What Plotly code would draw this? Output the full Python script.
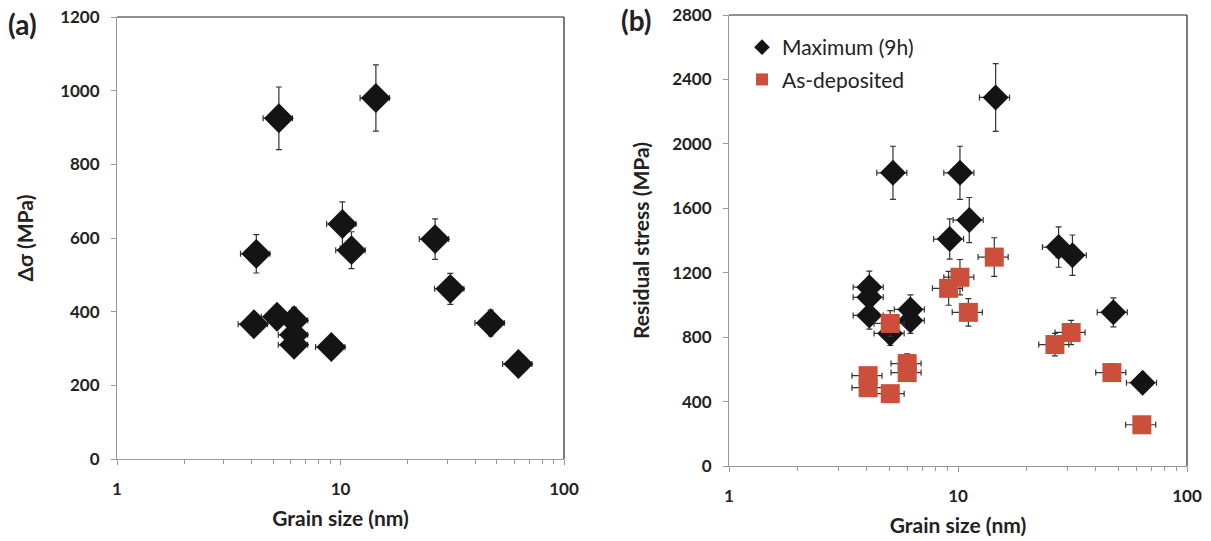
import plotly.graph_objects as go

# ---------------- data ----------------
# Panel (a): delta sigma vs grain size
a_grain = [5.3, 14.4, 10.2, 11.2, 26.5, 4.2, 31.0, 47.0, 62.5, 4.1, 5.2, 6.2, 6.2, 6.2, 9.1]
a_dsigma = [925, 980, 638, 567, 597, 557, 462, 369, 258, 366, 386, 377, 337, 310, 304]
a_dsigma_err = [85, 90, 60, 50, 55, 52, 42, 35, 25, 30, 30, 35, 30, 25, 20]

# Panel (b): residual stress vs grain size
b_max_grain = [14.6, 5.2, 10.2, 11.2, 9.2, 27.5, 31.6, 4.1, 4.1, 4.1, 5.06, 6.2, 6.2, 47.7, 64.0]
b_max_stress = [2288, 1820, 1820, 1527, 1409, 1359, 1309, 1110, 1047, 935, 823, 972, 904, 954, 517]
b_max_err = [210, 165, 165, 140, 125, 125, 125, 100, 95, 85, 75, 90, 80, 90, 45]

b_dep_grain = [14.4, 10.2, 9.1, 11.1, 5.06, 26.5, 31.2, 6.0, 6.0, 4.05, 4.05, 5.06, 47.0, 63.5]
b_dep_stress = [1297, 1172, 1103, 954, 885, 754, 829, 636, 580, 561, 486, 449, 580, 256]
b_dep_err = [120, 110, 105, 85, 80, 70, 75, 60, 55, 50, 45, 40, 55, 25]

grain_err_pct = 15  # horizontal error bars (percent of grain size)

a_yticks = [0, 200, 400, 600, 800, 1000, 1200]
b_yticks = [0, 400, 800, 1200, 1600, 2000, 2400, 2800]
x_ticks = [1, 10, 100]

series_names = ["Maximum (9h)", "As-deposited"]

# ---------------- styles ----------------
FONT = "Lato"
TXT = "#222222"
BLACK = "#141414"
RED = "#CB4F3B"
ERRC = "#333333"

W, H = 1211, 541

fig = go.Figure()

def err_y(arr):
    return dict(type="data", array=arr, visible=True, color=ERRC, thickness=1.2, width=3)

def err_x():
    return dict(type="percent", value=grain_err_pct, visible=True, color=ERRC, thickness=1.2, width=3)

fig.add_trace(go.Scatter(
    x=a_grain, y=a_dsigma, mode="markers", xaxis="x", yaxis="y",
    marker=dict(symbol="diamond", size=23, color=BLACK),
    error_y=err_y(a_dsigma_err), error_x=err_x(), showlegend=False,
))

fig.add_trace(go.Scatter(
    x=b_max_grain, y=b_max_stress, mode="markers", xaxis="x2", yaxis="y2",
    name=series_names[0], legendgroup="g1",
    marker=dict(symbol="diamond", size=20, color=BLACK),
    error_y=err_y(b_max_err), error_x=err_x(),
))

fig.add_trace(go.Scatter(
    x=b_dep_grain, y=b_dep_stress, mode="markers", xaxis="x2", yaxis="y2",
    name=series_names[1], legendgroup="g2",
    marker=dict(symbol="square", size=19, color=RED),
    error_y=err_y(b_dep_err), error_x=err_x(),
))

tickfont = dict(family=FONT, size=17, color=TXT, weight="bold")
titlefont = dict(family=FONT, size=21, color=TXT, weight="bold")

def xaxis(domain, anchor):
    return dict(
        type="log", domain=domain, anchor=anchor, range=[0, 2], automargin=False,
        tickvals=x_ticks, ticktext=[str(v) for v in x_ticks],
        ticks="outside", ticklen=5, tickcolor="#999999", tickwidth=1,
        minor=dict(ticks="outside", ticklen=4, tickcolor="#999999", dtick="D1", showgrid=False),
        showline=True, linecolor="#999999", linewidth=1,
        showgrid=False, zeroline=False, tickfont=tickfont,
        ticklabelstandoff=10,
        title=dict(text="Grain size (nm)", font=titlefont, standoff=12),
    )

def yaxis(domain, anchor, rng, ticks, title, standoff):
    return dict(
        domain=domain, anchor=anchor, range=rng, automargin=False,
        tickvals=ticks, ticks="outside", ticklen=5, tickcolor="#999999",
        showline=True, linecolor="#999999", linewidth=1,
        showgrid=False, zeroline=False, tickfont=tickfont,
        ticklabelstandoff=8,
        title=dict(text=title, font=titlefont, standoff=standoff),
    )

ax_a = [117 / W, 564 / W]
ay_a = [1 - 459 / H, 1 - 17 / H]
ax_b = [729 / W, 1187 / W]
ay_b = [1 - 466 / H, 1 - 15 / H]

fig.update_layout(
    width=W, height=H, autosize=False,
    margin=dict(l=0, r=0, t=0, b=0, pad=0),
    paper_bgcolor="white", plot_bgcolor="white",
    font=dict(family=FONT, color=TXT),
    xaxis=xaxis(ax_a, "y"),
    yaxis=yaxis(ay_a, "x", [0, 1200], a_yticks, "Δσ (MPa)", 20),
    xaxis2=xaxis(ax_b, "y2"),
    yaxis2=yaxis(ay_b, "x2", [0, 2800], b_yticks, "Residual stress (MPa)", 16),
    showlegend=True,
    legend=dict(
        x=742 / W, y=1 - 27 / H, xanchor="left", yanchor="top",
        bgcolor="rgba(0,0,0,0)", font=dict(family=FONT, size=21, color=TXT),
        itemsizing="constant", traceorder="grouped", tracegroupgap=2,
    ),
    annotations=[
        dict(text="(a)", x=6 / W, y=1 - 24 / H, xref="paper", yref="paper",
             xanchor="left", yanchor="middle", showarrow=False,
             font=dict(family=FONT, size=28, color=TXT, weight="bold")),
        dict(text="(b)", x=619 / W, y=1 - 20 / H, xref="paper", yref="paper",
             xanchor="left", yanchor="middle", showarrow=False,
             font=dict(family=FONT, size=28, color=TXT, weight="bold")),
    ],
    shapes=[
        dict(type="line", xref="x domain", yref="y domain", x0=0, x1=1, y0=1, y1=1,
             line=dict(color="#222222", width=1.2)),
        dict(type="line", xref="x domain", yref="y domain", x0=1, x1=1, y0=0, y1=1,
             line=dict(color="#222222", width=1.2)),
        dict(type="line", xref="x2 domain", yref="y2 domain", x0=0, x1=1, y0=1, y1=1,
             line=dict(color="#222222", width=1.2)),
        dict(type="line", xref="x2 domain", yref="y2 domain", x0=1, x1=1, y0=0, y1=1,
             line=dict(color="#222222", width=1.2)),
    ],
)

fig.write_html("out.html", post_script="document.body.style.margin='0';")
